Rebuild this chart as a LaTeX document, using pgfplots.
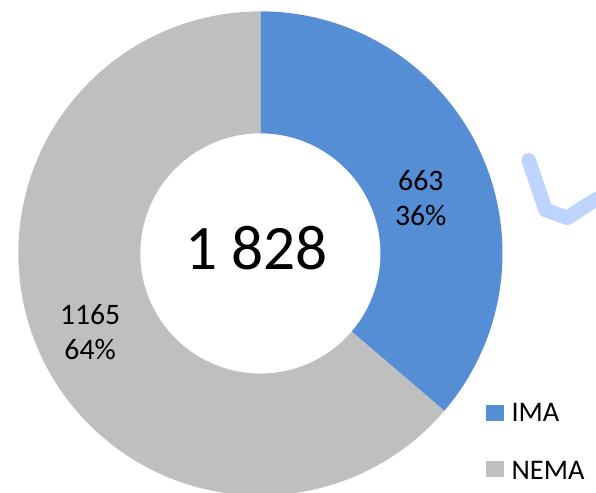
\documentclass[border=0pt]{standalone}
\usepackage{pgfplots}
\usepackage{pgfplotstable}
\pgfplotsset{compat=1.18}
\usepackage{fontspec}
\setmainfont{Carlito}
\usetikzlibrary{calc}
\definecolor{imablue}{HTML}{558ED5}
\definecolor{nemagray}{HTML}{BFBFBF}
\definecolor{squig}{HTML}{BFD3FF}
\pgfplotstableread{
label value
IMA 663
NEMA 1165
}\datatable
\begin{document}
\pgfplotstablegetelem{0}{value}\of\datatable \let\vA\pgfplotsretval
\pgfplotstablegetelem{1}{value}\of\datatable \let\vB\pgfplotsretval
\pgfmathsetmacro{\angA}{\vA/(\vA+\vB)*360}
\pgfmathsetmacro{\angB}{360-\angA}
\begin{tikzpicture}
\begin{axis}[
  scale only axis, width=447pt, height=372.75pt,
  xmin=0, xmax=596, ymin=0, ymax=497,
  axis lines=none, clip=true,
]
\addplot[draw=none] coordinates {(0,0)};
% IMA wedge
\fill[imablue] ($(axis cs:257,241)+(90:183.4pt)$) arc[start angle=90, delta angle=-\angA, radius=183.4pt]
  -- ($(axis cs:257,241)+({90-\angA}:91pt)$) arc[start angle={90-\angA}, delta angle=\angA, radius=91pt] -- cycle;
% NEMA wedge
\fill[nemagray] ($(axis cs:257,241)+({90-\angA}:183.4pt)$) arc[start angle={90-\angA}, delta angle=-\angB, radius=183.4pt]
  -- ($(axis cs:257,241)+(90:91pt)$) arc[start angle=90, delta angle=\angB, radius=91pt] -- cycle;
% decoration
\addplot[squig, line width=11pt, line cap=round, line join=round] coordinates {(528,335) (545,285) (567,277) (590,292) (605,300)};
% labels
\node[font=\fontsize{22.5}{26.5}\selectfont, align=center] at (axis cs:419,297) {\vA\\36\%};
\node[font=\fontsize{22.5}{26.5}\selectfont, align=center] at (axis cs:85,162) {\vB\\64\%};
\node[font=\fontsize{48}{56}\selectfont] at (axis cs:253,246) {1 828};
% legend
\fill[imablue] (axis cs:485,72) rectangle (axis cs:503,88);
\node[anchor=west, font=\fontsize{21.5}{25}\selectfont] at (axis cs:506,80) {IMA};
\fill[nemagray] (axis cs:485,15) rectangle (axis cs:503,31);
\node[anchor=west, font=\fontsize{21.5}{25}\selectfont] at (axis cs:506,22) {NEMA};
\end{axis}
\pgfresetboundingbox
\useasboundingbox (current axis.south west) rectangle (current axis.north east);
\end{tikzpicture}
\end{document}
